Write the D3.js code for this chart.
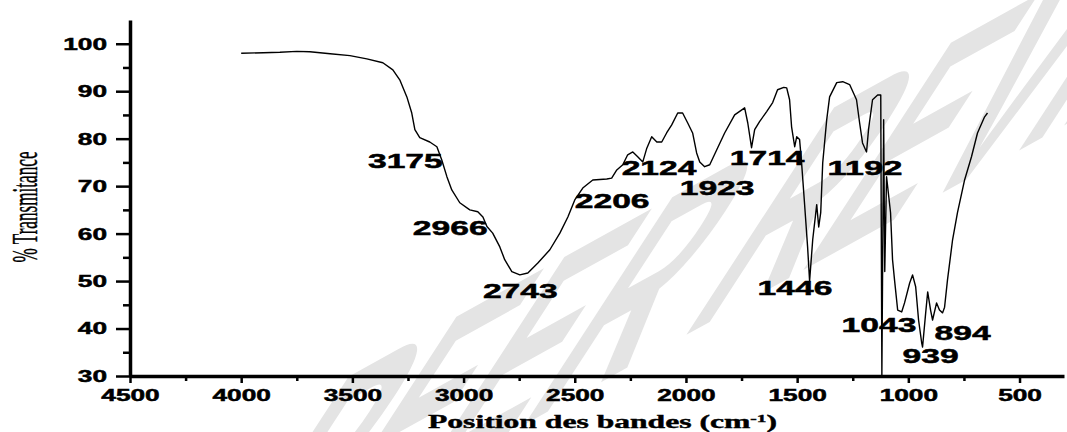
<!DOCTYPE html>
<html>
<head>
<meta charset="utf-8">
<script src="https://cdn.jsdelivr.net/npm/d3@7"></script>
<style>
  body { margin: 0; background: #fff; }
  svg { display: block; }
</style>
</head>
<body>
<div id="chart"></div>
<script>
// FTIR spectrum
const wavenumber = [4000, 3900, 3826, 3750, 3691, 3600, 3511, 3435, 3363, 3318, 3287, 3255, 3233, 3219, 3197,
  3152, 3120, 3098, 3075, 3053, 3017, 2972, 2936, 2913, 2895, 2869, 2837, 2815, 2783, 2747, 2711, 2666,
  2612, 2567, 2531, 2500, 2464, 2419, 2356, 2334, 2311, 2284, 2262, 2239, 2217, 2194, 2176, 2154, 2131,
  2109, 2087, 2064, 2037, 2015, 1992, 1970, 1952, 1938, 1916, 1893, 1862, 1826, 1781, 1736, 1722, 1705,
  1691, 1669, 1637, 1610, 1588, 1560, 1547, 1534, 1525, 1511, 1502, 1489, 1480, 1467, 1453, 1444, 1430,
  1412, 1403, 1394, 1385, 1367, 1354, 1322, 1295, 1264, 1233, 1219, 1206, 1188, 1179, 1161, 1138, 1124,
  1119, 1111, 1106, 1098, 1080, 1071, 1062, 1048, 1030, 1017, 994, 981, 967, 954, 940, 936, 922, 913,
  900, 891, 873, 860, 846, 837, 824, 801, 779, 747, 716, 689, 657, 644];
const transmittance = [98.0, 98.1, 98.2, 98.4, 98.3, 97.9, 97.5, 96.8, 96.0, 94.5, 92.4, 88.8, 85.4, 81.9, 80.2,
  79.3, 78.3, 75.5, 72.0, 69.2, 66.5, 65.0, 64.6, 63.5, 61.5, 60.1, 57.2, 54.5, 52.0, 51.3, 51.7, 53.8,
  56.6, 60.1, 63.5, 67.1, 69.6, 71.3, 71.5, 71.7, 73.4, 74.5, 76.6, 77.2, 76.2, 75.1, 78.0, 80.4, 79.3,
  79.3, 81.2, 82.9, 85.4, 85.4, 83.3, 81.2, 77.0, 75.1, 74.1, 74.5, 77.6, 81.2, 85.0, 86.5, 83.3, 78.1,
  81.9, 83.6, 85.7, 87.6, 90.3, 90.8, 90.7, 88.2, 82.5, 78.3, 80.4, 79.8, 74.9, 66.5, 57.2, 50.0, 58.7,
  66.1, 61.4, 64.4, 74.9, 84.0, 88.8, 91.8, 92.0, 91.4, 88.2, 83.3, 79.1, 77.2, 81.9, 88.2, 89.2, 89.2,
  30.0, 84.0, 52.0, 72.0, 64.4, 54.5, 50.2, 43.9, 43.5, 45.4, 49.6, 51.3, 48.8, 41.8, 37.0, 36.1, 43.3, 47.7,
  43.9, 41.8, 45.4, 43.9, 43.3, 44.5, 50.2, 58.7, 64.4, 71.3, 76.2, 81.2, 84.6, 85.4];

// band labels and where their text sits (wavenumber of left edge, %T of baseline)
const peakText = ["3175", "2966", "2743", "2206", "2124", "1923", "1714", "1192", "1446", "1043", "939", "894"];
const peakLabelX = [3430, 3228, 2913, 2500, 2289, 2028, 1803, 1363, 1678, 1300, 1026, 882];
const peakLabelY = [73.8, 59.7, 46.4, 65.4, 72.4, 68.2, 74.5, 72.4, 47.1, 39.3, 32.7, 37.6];

const xTicks = [4500, 4000, 3500, 3000, 2500, 2000, 1500, 1000, 500];
const xMinorTicks = [4250, 3750, 3250, 2750, 2250, 1750, 1250, 750];
const yTicks = [30, 40, 50, 60, 70, 80, 90, 100];
const yMinorTicks = [35, 45, 55, 65, 75, 85, 95];

var width = 1067, height = 432;

const svg = d3.select("#chart")
  .append("svg")
  .attr("width", width)
  .attr("height", height);

const x = d3.scaleLinear().domain([4500, 300]).range([130, 1064]);
const y = d3.scaleLinear().domain([30, 105]).range([376, 20]);

// faint review watermark behind everything
svg.append("text")
  .attr("transform", "translate(190,610) rotate(-29) skewX(-62)")
  .attr("font-family", "Liberation Sans, Arial, sans-serif")
  .attr("font-weight", "bold")
  .attr("font-size", 185)
  .attr("fill", "#e4e4e4")
  .text("PEER REVIEW");

// spectrum
const pts = wavenumber.map((w, i) => [w, transmittance[i]]);
svg.append("path")
  .datum(pts)
  .attr("fill", "none")
  .attr("stroke", "#000")
  .attr("stroke-width", 1.4)
  .attr("stroke-linejoin", "round")
  .attr("d", d3.line()
    .x(d => x(d[0]))
    .y(d => y(d[1])));

// minor ticks
svg.append("g")
  .attr("transform", "translate(0,376)")
  .call(d3.axisBottom(x).tickValues(xMinorTicks).tickSize(5).tickSizeOuter(0).tickFormat(""))
  .call(g => g.select(".domain").remove())
  .selectAll("line").attr("stroke-width", 2.5);

svg.append("g")
  .attr("transform", "translate(130,0)")
  .call(d3.axisLeft(y).tickValues(yMinorTicks).tickSize(7).tickSizeOuter(0).tickFormat(""))
  .call(g => g.select(".domain").remove())
  .selectAll("line").attr("stroke-width", 2.5);

// main axes
const xAxis = svg.append("g")
  .attr("transform", "translate(0,376)")
  .call(d3.axisBottom(x).tickValues(xTicks).tickSize(7).tickPadding(6).tickSizeOuter(0).tickFormat(d3.format("d")));

const yAxis = svg.append("g")
  .attr("transform", "translate(130,0)")
  .call(d3.axisLeft(y).tickValues(yTicks).tickSize(14).tickPadding(9).tickSizeOuter(0).tickFormat(d3.format("d")));

[xAxis, yAxis].forEach(g => {
  g.select(".domain").attr("stroke-width", 3.5);
  g.selectAll(".tick line").attr("stroke-width", 2.5);
  g.selectAll(".tick text")
    .attr("fill", "#000")
    .attr("stroke", "#000")
    .attr("stroke-width", 0.5)
    .style("font", "bold 17px 'Liberation Sans', Arial, sans-serif")
    .attr("textLength", function () { return this.textContent.length * 14.6; })
    .attr("lengthAdjust", "spacingAndGlyphs");
});

// band labels
svg.append("g")
  .selectAll("text")
  .data(peakText)
  .join("text")
  .attr("x", (d, i) => x(peakLabelX[i]))
  .attr("y", (d, i) => y(peakLabelY[i]))
  .attr("textLength", d => d.length * 18.7)
  .attr("lengthAdjust", "spacingAndGlyphs")
  .attr("stroke", "#000")
  .attr("stroke-width", 0.5)
  .style("font", "bold 21px 'Liberation Sans', Arial, sans-serif")
  .text(d => d);

// x axis title
const xt = svg.append("text")
  .attr("x", 428)
  .attr("y", 428)
  .attr("textLength", 349)
  .attr("lengthAdjust", "spacingAndGlyphs")
  .attr("stroke", "#000")
  .attr("stroke-width", 0.4)
  .style("font", "bold 18px 'Liberation Serif', 'Times New Roman', serif");
xt.append("tspan").text("Position des bandes (cm");
xt.append("tspan").attr("dy", -6).style("font-size", "11px").text("-1");
xt.append("tspan").attr("dy", 6).text(")");

// y axis title
svg.append("text")
  .attr("transform", "translate(37,207) rotate(-90)")
  .attr("text-anchor", "middle")
  .attr("textLength", 111)
  .attr("lengthAdjust", "spacingAndGlyphs")
  .attr("stroke", "#000")
  .attr("stroke-width", 0.4)
  .style("font", "36px 'Liberation Serif', 'Times New Roman', serif")
  .text("% Transmitance");
</script>
</body>
</html>
